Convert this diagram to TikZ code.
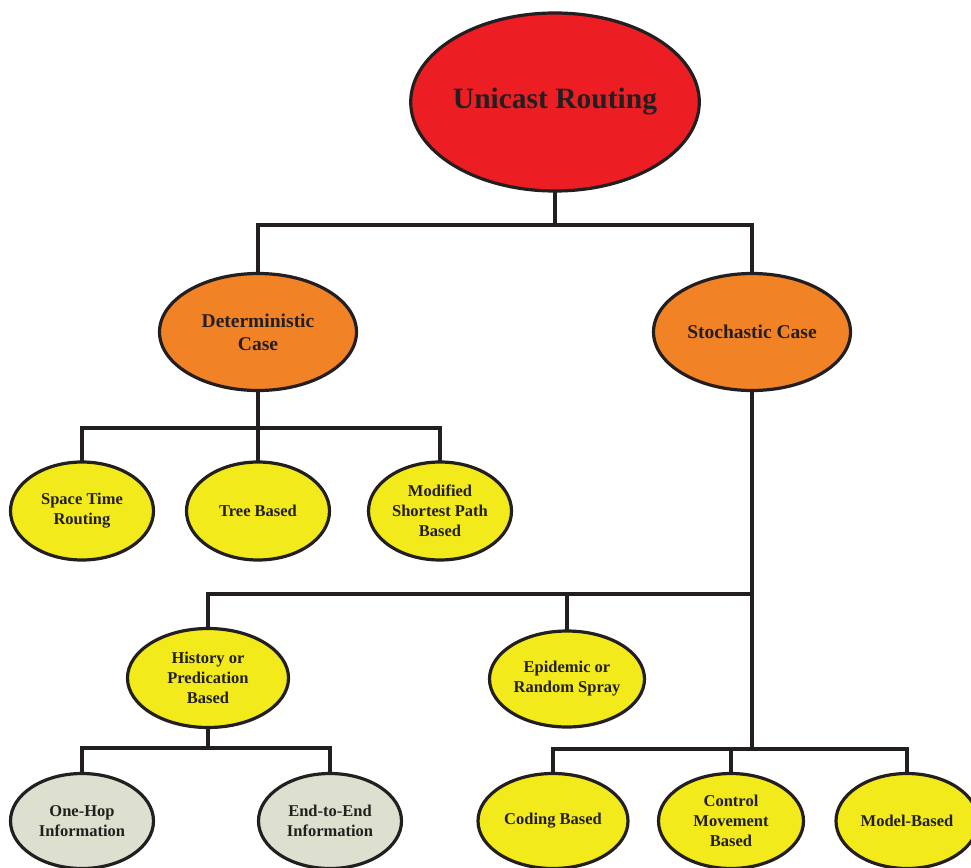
\documentclass[tikz,border=0pt]{standalone}
\usepackage{fontspec}
\setmainfont{Liberation Serif}
\usetikzlibrary{shapes.geometric}
\definecolor{cred}{RGB}{237,29,36}
\definecolor{corange}{RGB}{242,130,38}
\definecolor{cyellow}{RGB}{242,234,26}
\definecolor{cgray}{RGB}{221,224,206}
\definecolor{ctext}{RGB}{35,31,32}
\definecolor{cline}{RGB}{35,31,32}
\tikzset{
  ell/.style={ellipse, draw=cline, line width=3.2pt, inner sep=0pt, outer sep=0pt,
    text=ctext, font=\bfseries\fontsize{16.5}{20}\selectfont, align=center},
  rootell/.style={ell, fill=cred, minimum width=287, minimum height=178, font=\bfseries\fontsize{29.5}{34}\selectfont},
  midell/.style={ell, fill=corange, minimum width=197, minimum height=117, font=\bfseries\fontsize{19.5}{23}\selectfont},
  leafell/.style={ell, fill=cyellow, minimum width=143, minimum height=98},
  grayell/.style={ell, fill=cgray, minimum width=143, minimum height=95},
  conn/.style={draw=cline, line width=3.2pt}
}
\begin{document}
\begin{tikzpicture}[x=1pt,y=-1pt]
\useasboundingbox (0,0) rectangle (971,867);
% nodes
\node[rootell] (root) at (555,102) {Unicast Routing};
\node[midell] (det) at (258,332) {Deterministic\\Case};
\node[midell] (sto) at (752,332) {Stochastic Case};
\node[leafell] (spt) at (82,511) {Space Time\\Routing};
\node[leafell] (tree) at (258,511) {Tree Based};
\node[leafell] (msp) at (440,511) {Modified\\Shortest Path\\Based};
\node[leafell, minimum width=161, minimum height=99] (hist) at (208,678) {History or\\Predication\\Based};
\node[leafell, minimum width=155, minimum height=96] (epi) at (567,679) {Epidemic or\\Random Spray};
\node[grayell] (one) at (82,821) {One-Hop\\Information};
\node[grayell] (e2e) at (330,821) {End-to-End\\Information};
\node[leafell, minimum width=150, minimum height=95] (cod) at (553,821) {Coding Based};
\node[leafell, minimum width=145, minimum height=95] (ctl) at (731,821) {Control\\Movement\\Based};
\node[leafell, minimum width=142, minimum height=95] (mdl) at (907,821) {Model-Based};
% junctions
\coordinate (r1) at (555,225);
\coordinate (d1) at (258,428);
\coordinate (s1) at (752,594);
\coordinate (s2) at (752,749);
\coordinate (h1) at (208,748);
% connectors
\draw[conn] (root.south) -- (r1);
\draw[conn] (det.north) |- (r1);
\draw[conn] (sto.north) |- (r1);
\draw[conn] (det.south) -- (d1);
\draw[conn] (spt.north) |- (d1);
\draw[conn] (msp.north) |- (d1);
\draw[conn] (tree.north) -- (d1);
\draw[conn] (sto.south) -- (s2);
\draw[conn] (hist.north) |- (s1);
\draw[conn] (epi.north) -- (epi.north |- s1);
\draw[conn] (cod.north) |- (s2);
\draw[conn] (mdl.north) |- (s2);
\draw[conn] (ctl.north) -- (ctl.north |- s2);
\draw[conn] (hist.south) -- (h1);
\draw[conn] (one.north) |- (h1);
\draw[conn] (e2e.north) |- (h1);
\end{tikzpicture}
\end{document}
